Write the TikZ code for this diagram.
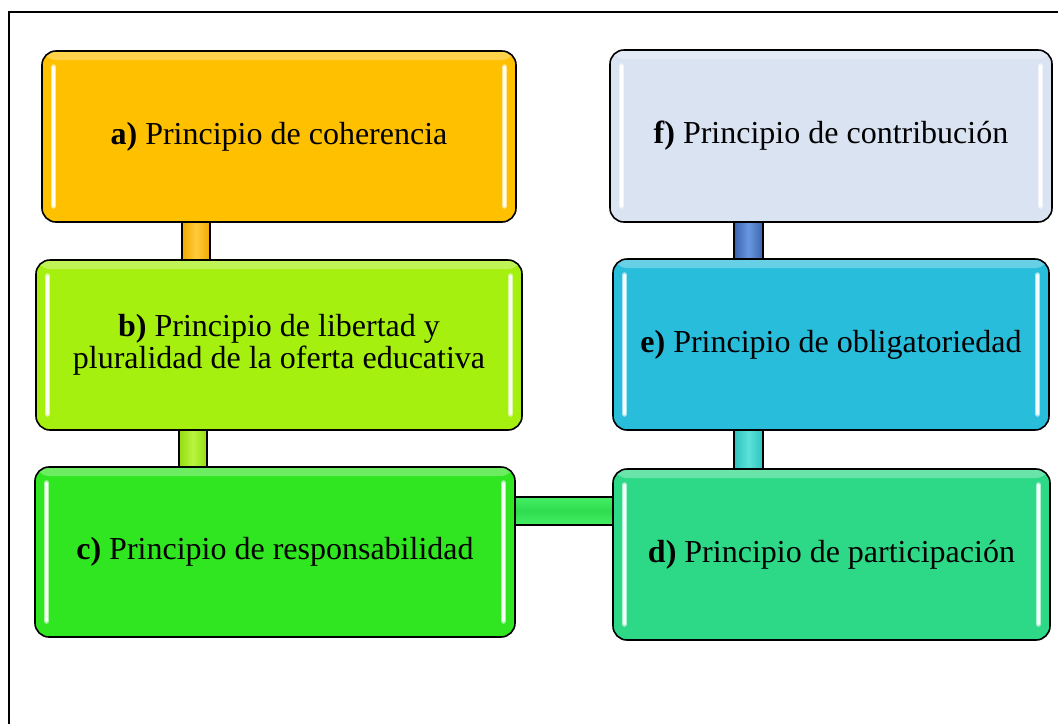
\documentclass[tikz,border=0pt]{standalone}
\usepackage{fontspec}
\setmainfont{Liberation Serif}
\usetikzlibrary{backgrounds}
\definecolor{cA}{HTML}{FFC000}
\definecolor{cB}{HTML}{A6F010}
\definecolor{cC}{HTML}{30E620}
\definecolor{cD}{HTML}{2DD986}
\definecolor{cE}{HTML}{29BDDC}
\definecolor{cF}{HTML}{DAE3F2}
\definecolor{barAe}{HTML}{F2A800}
\definecolor{barAm}{HTML}{FFCB3A}
\definecolor{barBe}{HTML}{94DC10}
\definecolor{barBm}{HTML}{B8F540}
\definecolor{barFe}{HTML}{3A62AE}
\definecolor{barFm}{HTML}{6A98E0}
\definecolor{barEe}{HTML}{2EC2BE}
\definecolor{barEm}{HTML}{5CE2DA}
\definecolor{barCe}{HTML}{45EE65}
\definecolor{barCm}{HTML}{2EDC4E}
\tikzset{
  box/.style={rounded corners=14pt, draw=black, line width=1.6pt, fill=#1,
    inner sep=0pt, align=center, font=\fontsize{32}{32}\selectfont,
    path picture={
      \shade[top color=white!30!#1, bottom color=#1]
        ([yshift=1pt]path picture bounding box.north west) rectangle
        ([yshift=-9pt]path picture bounding box.north east);
      \foreach \s/\t in {5.5pt/60, 2.2pt/95}{
      \draw[white!\t!#1, line width=\s, line cap=round]
        ([shift={(11.5pt,-16pt)}]path picture bounding box.north west) --
        ([shift={(11.5pt,16pt)}]path picture bounding box.south west);
      \draw[white!\t!#1, line width=\s, line cap=round]
        ([shift={(-11.5pt,-16pt)}]path picture bounding box.north east) --
        ([shift={(-11.5pt,16pt)}]path picture bounding box.south east);
      }
    }},
  vbar/.style 2 args={draw=black, line width=1.3pt, left color=#1, right color=#1, middle color=#2},
  hbar/.style 2 args={draw=black, line width=1.3pt, top color=#1, bottom color=#1, middle color=#2}
}
\begin{document}
\begin{tikzpicture}[x=1pt,y=-1pt]
\useasboundingbox (0,0) rectangle (1058,724);
\draw[line width=2pt] (8.5,724) -- (8.5,12) -- (1058,12);

\node[box=cA, minimum width=474pt, minimum height=171pt] (a) at (279,136.5) {\textbf{a)} Principio de coherencia};
\node[box=cB, minimum width=486pt, minimum height=170pt] (b) at (279,345) {\textbf{b)} Principio de libertad y\\pluralidad de la oferta educativa};
\node[box=cC, minimum width=480pt, minimum height=170pt] (c) at (275,552) {\textbf{c)} Principio de responsabilidad};
\node[box=cD, minimum width=437pt, minimum height=171pt] (d) at (831.5,554.5) {\textbf{d)} Principio de participación};
\node[box=cE, minimum width=436pt, minimum height=171pt] (e) at (831,344.5) {\textbf{e)} Principio de obligatoriedad};
\node[box=cF, minimum width=442pt, minimum height=172pt] (f) at (831,136) {\textbf{f)} Principio de contribución};

\begin{scope}[on background layer]
\path[vbar={barAe}{barAm}] ([xshift=-97pt,yshift=3pt]a.south) rectangle ([xshift=-69pt,yshift=-3pt]b.north);
\path[vbar={barBe}{barBm}] ([xshift=-100pt,yshift=3pt]b.south) rectangle ([xshift=-68pt,yshift=-3pt]c.north);
\path[vbar={barFe}{barFm}] ([xshift=-97pt,yshift=3pt]f.south) rectangle ([xshift=-68pt,yshift=-3pt]e.north);
\path[vbar={barEe}{barEm}] ([xshift=-97pt,yshift=3pt]e.south) rectangle ([xshift=-68.5pt,yshift=-3pt]d.north);
\path[hbar={barCe}{barCm}] ([xshift=-3pt,yshift=55pt]c.east) rectangle ([xshift=3pt,yshift=29.5pt]d.west);
\end{scope}
\end{tikzpicture}
\end{document}
